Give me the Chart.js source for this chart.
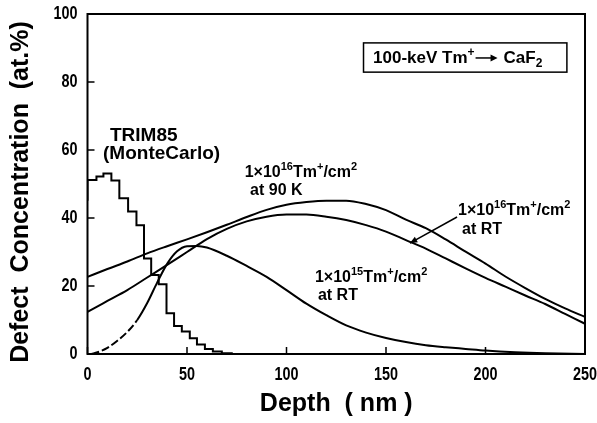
<!DOCTYPE html>
<html>
<head>
<meta charset="utf-8">
<script src="https://cdn.jsdelivr.net/npm/chart.js@4.4.1/dist/chart.umd.min.js"></script>
<style>
  html, body { margin: 0; padding: 0; background: #fff; }
  #wrap { width: 597px; height: 423px; }
</style>
</head>
<body>
<div id="wrap"><canvas id="defectChart" width="597" height="423"></canvas></div>
<script>
// ── Data ────────────────────────────────────────────────────────────────────
// TRIM85 Monte Carlo histogram: bin left edges (nm) and heights (at.%)
const histEdges  = [0, 4.5, 8, 12, 16, 20.4, 24.6, 28.4, 32, 35.8, 39.7, 43.5, 47.4, 51.4, 55, 59, 63, 67.5, 72.5, 77];
const histValues = [45.1, 51.2, 52.2, 53.1, 51, 45.8, 41.9, 37.9, 28.1, 23.2, 20.5, 12, 8.2, 6.6, 4.6, 2.8, 1.5, 0.7, 0.2, 0];

// 1e16 Tm+/cm2 curves (90 K and RT) share one depth grid
const curveDepth = [0, 10, 20, 30, 40, 50, 60, 70, 80, 90, 100, 110, 120, 130, 140, 150, 160, 170, 180, 190, 200, 210, 220, 230, 240, 250];
const dose16at90K = [22.7, 25, 27.2, 29.6, 31.7, 33.7, 35.8, 38, 40.3, 42.4, 43.9, 44.7, 45.1, 45.1, 44.1, 42.3, 39.5, 37, 33.7, 30.1, 26.6, 22.8, 19.4, 16.2, 13.4, 10.9];
const dose16atRT  = [12.4, 15.6, 18.8, 22.5, 26.2, 30, 33.8, 36.8, 39, 40.4, 41, 41, 40.4, 39.4, 37.9, 36, 33.5, 31, 28.1, 25.2, 22.4, 19.8, 17.2, 14.7, 11.8, 8.9];

// 1e15 Tm+/cm2 at RT
const dose15Depth = [2, 5, 10, 15, 20, 25, 30, 35, 40, 45, 50, 55, 60, 70, 80, 90, 100, 110, 120, 130, 140, 150, 160, 170, 180, 190, 200, 215, 230, 250];
const dose15atRT  = [0, 0.5, 1.8, 3.9, 6.5, 10, 15, 21, 26.5, 30.2, 31.7, 31.8, 31.3, 28.9, 25.9, 22.7, 18.8, 14.8, 11.4, 8.4, 6.3, 4.7, 3.5, 2.6, 2, 1.5, 1.0, 0.5, 0.2, 0];

const xTicks = [0, 50, 100, 150, 200, 250];
const yTicks = [0, 20, 40, 60, 80, 100];

// ── Fonts ───────────────────────────────────────────────────────────────────
const FONT = "'Liberation Sans', Arial, Helvetica, sans-serif";

const toPoints = (xs, ys) => xs.map((x, i) => ({ x, y: ys[i] }));

// draw text with superscripts / subscripts, left aligned on a baseline
function drawRich(ctx, x, y, parts, size) {
    let cx = x;
    ctx.textAlign = 'left';
    ctx.textBaseline = 'alphabetic';
    parts.forEach(([t, kind]) => {
        const s = kind ? Math.round(size * 0.68) : size;
        ctx.font = `bold ${s}px ${FONT}`;
        const dy = kind === 'sup' ? -size * 0.42 : kind === 'sub' ? size * 0.22 : 0;
        ctx.fillText(t, cx, y + dy);
        cx += ctx.measureText(t).width;
    });
    return cx;
}

// condensed tick label (no narrow font installed, so squeeze horizontally)
function drawNarrow(ctx, text, x, y, align) {
    ctx.save();
    ctx.translate(x, y);
    ctx.scale(0.8, 1);
    ctx.font = `bold 18px ${FONT}`;
    ctx.textAlign = align;
    ctx.textBaseline = 'middle';
    ctx.fillText(text, 0, 0);
    ctx.restore();
}

// ── Frame, inward ticks, labels ─────────────────────────────────────────────
const decorations = {
    id: 'decorations',
    afterDraw(chart) {
        const { ctx, chartArea: a, scales: { x, y } } = chart;
        ctx.save();
        ctx.strokeStyle = '#000';
        ctx.fillStyle = '#000';

        // frame
        ctx.lineWidth = 2;
        ctx.strokeRect(a.left, a.top, a.right - a.left, a.bottom - a.top);

        // inward ticks + labels
        ctx.lineWidth = 1.5;
        ctx.beginPath();
        xTicks.forEach(v => {
            const px = x.getPixelForValue(v);
            ctx.moveTo(px, a.bottom); ctx.lineTo(px, a.bottom - 7);
        });
        yTicks.forEach(v => {
            const py = y.getPixelForValue(v);
            ctx.moveTo(a.left, py); ctx.lineTo(a.left + 7, py);
        });
        ctx.stroke();
        xTicks.forEach(v => drawNarrow(ctx, String(v), x.getPixelForValue(v), a.bottom + 21, 'center'));
        yTicks.forEach(v => drawNarrow(ctx, String(v), a.left - 10, y.getPixelForValue(v), 'right'));

        // y axis title (sits a bit below the plot centre in the original)
        ctx.save();
        ctx.translate(21, 192);
        ctx.rotate(-Math.PI / 2);
        ctx.font = `bold 25px ${FONT}`;
        ctx.textAlign = 'center';
        ctx.textBaseline = 'middle';
        ctx.fillText('Defect  Concentration  (at.%)', 0, 0);
        ctx.restore();

        const X = v => x.getPixelForValue(v);
        const Y = v => y.getPixelForValue(v);

        // TRIM85 label
        ctx.font = `bold 19px ${FONT}`;
        ctx.textAlign = 'left';
        ctx.textBaseline = 'alphabetic';
        ctx.fillText('TRIM85', X(11.3), Y(62.6));
        ctx.fillText('(MonteCarlo)', X(7.8), Y(57.4));

        const doseParts = (exp) => [['1×10', null], [exp, 'sup'], ['Tm', null], ['+', 'sup'], ['/cm', null], ['2', 'sup']];

        drawRich(ctx, X(79), Y(52.1), doseParts('16'), 16);
        drawRich(ctx, X(81.7), Y(46.8), [['at 90 K', null]], 16);

        drawRich(ctx, X(186.2), Y(40.9), doseParts('16'), 16);
        drawRich(ctx, X(188.2), Y(35.3), [['at RT', null]], 16);

        drawRich(ctx, X(114.3), Y(21.3), doseParts('15'), 16);
        drawRich(ctx, X(115.8), Y(15.9), [['at RT', null]], 16);

        // arrow to the 1e16 RT curve
        const ax0 = X(185.7), ay0 = Y(40.3), ax1 = X(162), ay1 = Y(32.6);
        ctx.lineWidth = 1.5;
        ctx.beginPath(); ctx.moveTo(ax0, ay0); ctx.lineTo(ax1, ay1); ctx.stroke();
        const ang = Math.atan2(ay1 - ay0, ax1 - ax0);
        ctx.beginPath();
        ctx.moveTo(ax1, ay1);
        ctx.lineTo(ax1 - 8 * Math.cos(ang - 0.4), ay1 - 8 * Math.sin(ang - 0.4));
        ctx.lineTo(ax1 - 8 * Math.cos(ang + 0.4), ay1 - 8 * Math.sin(ang + 0.4));
        ctx.closePath(); ctx.fill();

        // boxed reaction label
        const bx0 = X(138.7), bx1 = X(240.9), by0 = Y(91.5), by1 = Y(82.9);
        ctx.lineWidth = 1.5;
        ctx.strokeRect(bx0, by0, bx1 - bx0, by1 - by0);
        let cx = drawRich(ctx, X(143.5), Y(85.6), [['100-keV Tm', null], ['+', 'sup']], 17);
        // long arrow
        const arY = Y(85.6) - 5;
        ctx.lineWidth = 1.5;
        ctx.beginPath(); ctx.moveTo(cx + 1, arY); ctx.lineTo(cx + 20, arY); ctx.stroke();
        ctx.beginPath();
        ctx.moveTo(cx + 23, arY); ctx.lineTo(cx + 16, arY - 3.5); ctx.lineTo(cx + 16, arY + 3.5);
        ctx.closePath(); ctx.fill();
        drawRich(ctx, cx + 29, Y(85.6), [['CaF', null], ['2', 'sub']], 17);

        ctx.restore();
    }
};

// ── Chart ───────────────────────────────────────────────────────────────────
const lineStyle = { borderColor: '#000', borderWidth: 2, pointRadius: 0, fill: false };

const ctx = document.getElementById('defectChart').getContext('2d');
new Chart(ctx, {
    type: 'line',
    data: {
        datasets: [
            { label: 'TRIM85 (MonteCarlo)', data: toPoints(histEdges, histValues), stepped: 'after', ...lineStyle },
            { label: '1e16 at 90 K', data: toPoints(curveDepth, dose16at90K), cubicInterpolationMode: 'monotone', ...lineStyle },
            { label: '1e16 at RT', data: toPoints(curveDepth, dose16atRT), cubicInterpolationMode: 'monotone', ...lineStyle },
            {
                label: '1e15 at RT', data: toPoints(dose15Depth, dose15atRT), cubicInterpolationMode: 'monotone', ...lineStyle,
                segment: { borderDash: c => (c.p1.parsed.x <= 25 ? [8, 3] : undefined) }
            }
        ]
    },
    options: {
        responsive: false,
        animation: false,
        layout: { padding: { left: 0, top: 14, right: 12, bottom: 0 } },
        plugins: { legend: { display: false }, tooltip: { enabled: false } },
        scales: {
            x: {
                type: 'linear', min: 0, max: 250,
                afterFit(s) { s.height = 69; s.paddingLeft = 0; s.paddingRight = 0; },
                afterBuildTicks(s) { s.ticks = xTicks.map(v => ({ value: v })); },
                ticks: { display: false },
                grid: { display: false, drawTicks: false },
                border: { display: false },
                title: {
                    display: true, text: 'Depth  ( nm )', color: '#000',
                    font: { family: FONT, size: 25, weight: 'bold' },
                    padding: { top: 0, bottom: 4 }
                }
            },
            y: {
                min: 0, max: 100,
                afterFit(s) { s.width = 87.5; s.paddingTop = 0; s.paddingBottom = 0; },
                afterBuildTicks(s) { s.ticks = yTicks.map(v => ({ value: v })); },
                ticks: { display: false },
                grid: { display: false, drawTicks: false },
                border: { display: false }
            }
        }
    },
    plugins: [decorations]
});
</script>
</body>
</html>
